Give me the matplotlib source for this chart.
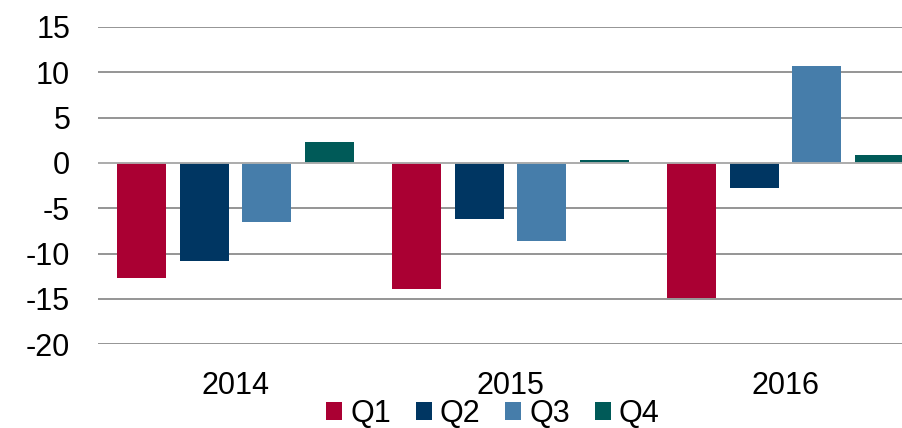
import numpy as np
import matplotlib
matplotlib.use("Agg")
import matplotlib.pyplot as plt

plt.rcParams['font.family'] = ['Liberation Sans', 'DejaVu Sans']
plt.rcParams['axes.unicode_minus'] = False

years = ['2014', '2015', '2016']
quarters = ['Q1', 'Q2', 'Q3', 'Q4']
q1 = [-12.7, -13.9, -14.9]
q2 = [-10.8, -6.2, -2.8]
q3 = [-6.55, -8.6, 10.7]
q4 = [2.35, 0.3, 0.9]
colors = ['#AA0033', '#003662', '#467DAA', '#005A58']

fig = plt.figure(figsize=(9.03, 4.28), dpi=100)
# axes runs past the right edge, like the cropped original
ax = fig.add_axes([98 / 903, 83.7 / 428, 825 / 903, 35 * 9.07 / 428])

x = np.arange(len(years))
step = 0.2275
width = 0.178
for i, (vals, name) in enumerate(zip([q1, q2, q3, q4], quarters)):
    ax.bar(x + (i - 1.5) * step, vals, width, color=colors[i], label=name, zorder=3)

ax.set_xlim(-0.5, 2.5)
ax.set_ylim(-20, 15)
ax.set_yticks(np.arange(-20, 16, 5))
ax.set_xticks(x)
ax.set_xticklabels(years)
ax.yaxis.grid(True, color='#8c8c8c', linewidth=1.3, zorder=0)
ax.axhline(0, color='#b0b0b0', linewidth=1.3, zorder=4)
for s in ax.spines.values():
    s.set_visible(False)
ax.tick_params(axis='both', length=0, labelsize=22, colors='black')
ax.tick_params(axis='y', pad=20)
ax.tick_params(axis='x', pad=19)

fig.legend(loc='center', bbox_to_anchor=(493 / 903, 14 / 428), ncol=4, frameon=False,
           fontsize=22, handlelength=0.52, handleheight=0.52, handletextpad=0.26,
           columnspacing=0.82, borderpad=0, borderaxespad=0)

fig.savefig('out.png', dpi=100)
